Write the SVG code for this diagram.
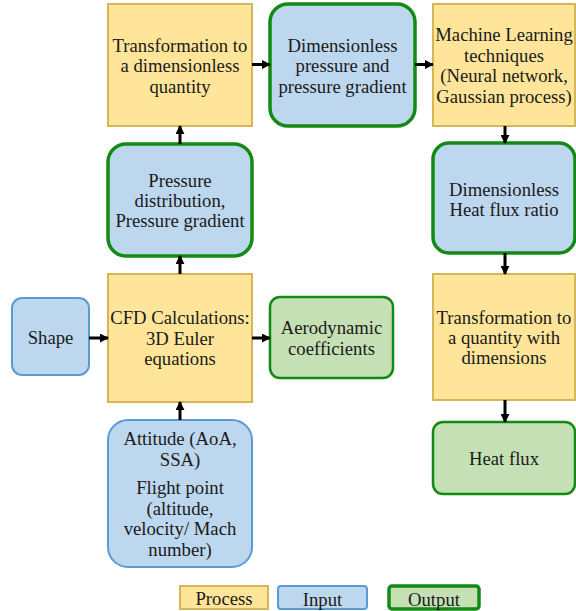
<svg xmlns="http://www.w3.org/2000/svg" width="576" height="611" viewBox="0 0 576 611">
<style>
.proc{fill:#FFE599;stroke:#D6B656;stroke-width:2}
.inp{fill:#BDD7EE;stroke:#5B9BD5;stroke-width:2}
.outb{fill:#BDD7EE;stroke:#138A13;stroke-width:3.5}
.outg{fill:#C5E0B4;stroke:#138A13;stroke-width:2.5}
.leg{fill:#C5E0B4;stroke:#138A13;stroke-width:3.5}
.conn{stroke:#000;stroke-width:3;fill:none;marker-end:url(#ah)}
</style>
<defs>
<marker id="ah" viewBox="0 0 10 10" refX="9" refY="5" markerWidth="3" markerHeight="3" orient="auto" markerUnits="strokeWidth">
<path d="M0,0 L10,5 L0,10 Z" fill="#000"/>
</marker>
</defs>
<rect width="576" height="611" fill="#fff"/>
<g font-family="'Liberation Serif', serif" font-size="18.7" fill="#1a1a1a" text-anchor="middle">
<g id="transform1">
<rect class="proc" x="108" y="4" width="144" height="122"/>
<text x="180" y="51.5">Transformation to</text>
<text x="180" y="72">a dimensionless</text>
<text x="180" y="92.5">quantity</text>
</g>
<g id="dimpressure">
<rect class="outb" x="270" y="4" width="145" height="122" rx="18"/>
<text x="342.5" y="51.5">Dimensionless</text>
<text x="342.5" y="72">pressure and</text>
<text x="342.5" y="92.5">pressure gradient</text>
</g>
<g id="ml">
<rect class="proc" x="433" y="4" width="142" height="122"/>
<text x="504" y="41">Machine Learning</text>
<text x="504" y="61.5">techniques</text>
<text x="504" y="82">(Neural network,</text>
<text x="504" y="102.5">Gaussian process)</text>
</g>
<g id="pressuredist">
<rect class="outb" x="108" y="144" width="144" height="112" rx="18"/>
<text x="180" y="186.5">Pressure</text>
<text x="180" y="206.5">distribution,</text>
<text x="180" y="226.5">Pressure gradient</text>
</g>
<g id="dimheat">
<rect class="outb" x="433" y="143" width="142" height="110" rx="16"/>
<text x="504" y="195.5">Dimensionless</text>
<text x="504" y="215.5">Heat flux ratio</text>
</g>
<g id="shape">
<rect class="inp" x="12" y="298" width="77" height="77" rx="10"/>
<text x="50.5" y="344">Shape</text>
</g>
<g id="cfd">
<rect class="proc" x="108" y="274" width="144" height="128"/>
<text x="180" y="324">CFD Calculations:</text>
<text x="180" y="344.5">3D Euler</text>
<text x="180" y="365">equations</text>
</g>
<g id="aero">
<rect class="outg" x="270" y="297" width="123" height="81" rx="10"/>
<text x="331.5" y="333.5">Aerodynamic</text>
<text x="331.5" y="355">coefficients</text>
</g>
<g id="transform2">
<rect class="proc" x="433" y="274" width="142" height="126"/>
<text x="504" y="323.5">Transformation to</text>
<text x="504" y="343.5">a quantity with</text>
<text x="504" y="364">dimensions</text>
</g>
<g id="attitude">
<rect class="inp" x="108" y="420" width="144" height="147" rx="20"/>
<text x="180" y="444.5">Attitude  (AoA,</text>
<text x="180" y="465.5">SSA)</text>
<text x="180" y="493.5">Flight point</text>
<text x="180" y="514.5">(altitude,</text>
<text x="180" y="535">velocity/ Mach</text>
<text x="180" y="555.5">number)</text>
</g>
<g id="heatflux">
<rect class="outg" x="433" y="422" width="142" height="72" rx="10"/>
<text x="504" y="464.5">Heat flux</text>
</g>

<g id="connectors">
<path class="conn" d="M252,64.5 L270,64.5"/>
<path class="conn" d="M415,64.5 L433,64.5"/>
<path class="conn" d="M505,126 L505,143"/>
<path class="conn" d="M505,253 L505,274"/>
<path class="conn" d="M505,400 L505,422"/>
<path class="conn" d="M180,144 L180,126"/>
<path class="conn" d="M180,274 L180,256"/>
<path class="conn" d="M89,338 L108,338"/>
<path class="conn" d="M252,338 L270,338"/>
<path class="conn" d="M180,420 L180,402"/>
</g>

<g id="legend">
<rect class="proc" x="180" y="586" width="88" height="23"/>
<text x="224" y="604.5">Process</text>
<rect class="inp" x="278" y="586" width="89" height="23" rx="3"/>
<text x="322.5" y="606">Input</text>
<rect class="leg" x="389" y="586" width="90" height="23" rx="3"/>
<text x="434" y="606">Output</text>
</g>
</g>
</svg>
